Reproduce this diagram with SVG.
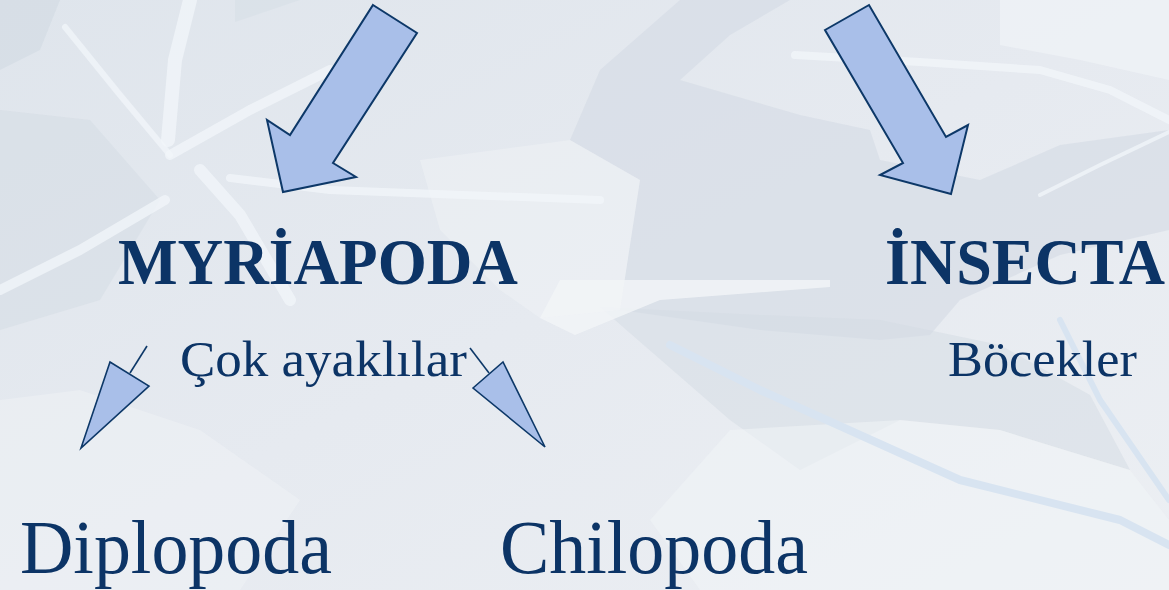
<svg xmlns="http://www.w3.org/2000/svg" width="1169" height="590" viewBox="0 0 1169 590">
<defs>
<linearGradient id="bg" x1="0" y1="0" x2="1" y2="1">
<stop offset="0" stop-color="#dfe5ec"/>
<stop offset="0.5" stop-color="#e6eaf0"/>
<stop offset="1" stop-color="#eceff3"/>
</linearGradient>
<style>
.t{fill:#0c3466;font-family:"Liberation Serif","Times New Roman",serif}
.b{font-weight:bold;font-size:65px}
.m{font-size:51px}
.l{font-size:76px}
.arr{fill:#a9bfe9;stroke:#0d3868;stroke-width:2;stroke-linejoin:miter}
.sarr{fill:#a9bfe9;stroke:#0d3868;stroke-width:1.6}
.stem{stroke:#0d3868;stroke-width:1.6;fill:none}
.dk{fill:#d3dbe4}
.lt{fill:#f2f5f8}
.cr{fill:none;stroke:#f2f5f9;stroke-linecap:round;stroke-linejoin:round;opacity:0.75}
.bl{fill:none;stroke:#d8e4f1;stroke-linecap:round;stroke-linejoin:round}
</style>
</defs>
<g id="background">
<rect width="1169" height="590" fill="url(#bg)"/>
<polygon class="dk" opacity="0.7" points="0,0 60,0 40,50 0,70"/>
<polygon class="dk" opacity="0.5" points="0,110 90,120 160,200 100,300 0,330"/>
<polygon class="dk" opacity="0.4" points="235,0 300,0 235,22"/>
<polygon class="dk" opacity="0.6" points="680,0 790,0 730,35 680,80 800,115 870,130 880,160 980,180 1060,145 1169,130 1169,230 1060,255 960,300 930,335 880,340 760,330 620,310 640,180 570,140 600,70"/>
<polygon class="dk" opacity="0.5" points="600,307 760,315 880,320 1000,345 1090,395 1130,470 1000,430 900,420 800,470 730,420"/>
<polygon class="lt" opacity="0.8" points="540,318 575,335 660,300 830,287 830,280 560,280"/>
<polygon class="lt" opacity="0.4" points="570,140 640,180 620,310 540,318 500,290 440,230 420,160"/>
<polygon class="lt" opacity="0.6" points="1000,0 1169,0 1169,80 1080,60 1000,45"/>
<polygon class="lt" opacity="0.5" points="730,430 900,420 1000,430 1130,470 1169,520 1169,590 700,590 650,520"/>
<polygon class="lt" opacity="0.4" points="0,400 80,390 200,430 300,500 240,590 0,590"/>
<path class="cr" stroke-width="6" d="M65,27 L120,95 L170,155"/>
<path class="cr" stroke-width="14" d="M190,0 L175,60 L168,140"/>
<path class="cr" stroke-width="10" d="M170,155 L250,110 L330,70"/>
<path class="cr" stroke-width="12" d="M200,170 L240,215 L290,300"/>
<path class="cr" stroke-width="8" d="M230,178 L330,190 L600,200"/>
<path class="cr" stroke-width="10" d="M165,200 L80,250 L0,290"/>
<path class="cr" stroke-width="8" d="M795,55 L920,62 L1040,70 L1110,90 L1169,120"/>
<path class="cr" stroke-width="4" d="M1169,132 L1100,165 L1040,195"/>
<path class="bl" stroke-width="8" d="M670,345 L760,390 L960,480 L1120,520 L1169,545"/>
<path class="bl" stroke-width="6" d="M1060,320 L1100,400 L1169,500"/>
</g>
<g id="connectors">
<polygon class="arr" points="373,5 417,33 333,163 356,177 283,192 267,120 290,135"/>
<polygon class="arr" points="825,30 869,5 946,137 968,125 951,194 880,175 903,163"/>
<line class="stem" x1="147" y1="346" x2="130" y2="373"/>
<polygon class="sarr" points="110,362 149,386 81,448"/>
<line class="stem" x1="470" y1="348" x2="489" y2="373"/>
<polygon class="sarr" points="473,388 503,362 545,447"/>
</g>
<g id="myriapoda">
<text class="t b" x="118" y="284" textLength="400" lengthAdjust="spacingAndGlyphs">MYRİAPODA</text>
<text class="t m" x="180" y="376" textLength="287" lengthAdjust="spacingAndGlyphs">Çok ayaklılar</text>
</g>
<g id="insecta">
<text class="t b" x="885" y="284" textLength="280" lengthAdjust="spacingAndGlyphs">İNSECTA</text>
<text class="t m" x="948" y="376" textLength="189" lengthAdjust="spacingAndGlyphs">Böcekler</text>
</g>
<g id="diplopoda">
<text class="t l" x="20" y="573" textLength="312" lengthAdjust="spacingAndGlyphs">Diplopoda</text>
</g>
<g id="chilopoda">
<text class="t l" x="500" y="573" textLength="308" lengthAdjust="spacingAndGlyphs">Chilopoda</text>
</g>
</svg>
